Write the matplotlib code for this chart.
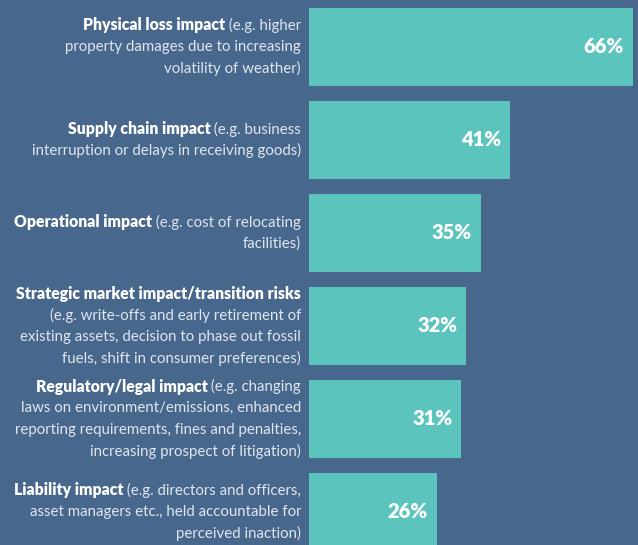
import matplotlib
matplotlib.use("Agg")
import matplotlib.pyplot as plt
import matplotlib.transforms as mtransforms

# impact categories: bold heading part, then the regular text split into lines
heads = ["Physical loss impact",
         "Supply chain impact",
         "Operational impact",
         "Strategic market impact/transition risks",
         "Regulatory/legal impact",
         "Liability impact"]
lines = [[" (e.g. higher", "property damages due to increasing", "volatility of weather)"],
         [" (e.g. business", "interruption or delays in receiving goods)"],
         [" (e.g. cost of relocating", "facilities)"],
         ["", "(e.g. write-offs and early retirement of",
          "existing assets, decision to phase out fossil",
          "fuels, shift in consumer preferences)"],
         [" (e.g. changing", "laws on environment/emissions, enhanced",
          "reporting requirements, fines and penalties,",
          "increasing prospect of litigation)"],
         [" (e.g. directors and officers,", "asset managers etc., held accountable for",
          "perceived inaction)"]]
values = [66, 41, 35, 32, 31, 26]

bg = "#48678c"
teal = "#5bc4bc"
txt = "#dfe6ef"
fam = "Lato"
fs = 10.8
fs_head = 11.3

fig = plt.figure(figsize=(6.38, 5.45), dpi=100)
fig.patch.set_facecolor(bg)
ax = fig.add_axes([309 / 638, 0, 329 / 638, 1])
ax.set_facecolor(bg)
for s in ax.spines.values():
    s.set_visible(False)
ax.set_xticks([])
ax.set_yticks([])

ypos = list(range(len(values)))
ax.barh(ypos, values, height=0.84, color=teal)
ax.set_xlim(0, 329 / 4.91)
ax.set_ylim(5.355, -0.505)

# value labels inside the bar ends
off = mtransforms.offset_copy(ax.transData, fig=fig, x=-9, y=0, units="dots")
for y, v in zip(ypos, values):
    ax.text(v, y, f"{v}%", transform=off, ha="right", va="center",
            color="white", fontsize=14.5, fontweight="heavy", family=fam)

# category descriptions, right aligned left of the bars
tr = mtransforms.blended_transform_factory(fig.transFigure, ax.transData)
renderer = fig.canvas.get_renderer()
xr = 301 / 638
step = 21.5 / 93
for y, head, ls in zip(ypos, heads, lines):
    n = len(ls)
    y0 = y - step * (n - 1) / 2
    for k, line in enumerate(ls):
        yy = y0 + k * step
        if k == 0:
            if line:
                t = ax.text(xr, yy, line, transform=tr, ha="right", va="center",
                            color=txt, fontsize=fs, family=fam)
                bb = t.get_window_extent(renderer)
                xb = bb.x0 / fig.bbox.width
            else:
                xb = xr
            ax.text(xb, yy, head, transform=tr, ha="right", va="center",
                    color="white", fontsize=fs_head, fontweight="heavy", family=fam)
        else:
            ax.text(xr, yy, line, transform=tr, ha="right", va="center",
                    color=txt, fontsize=fs, family=fam)

fig.savefig("out.png", dpi=100, facecolor=bg)
